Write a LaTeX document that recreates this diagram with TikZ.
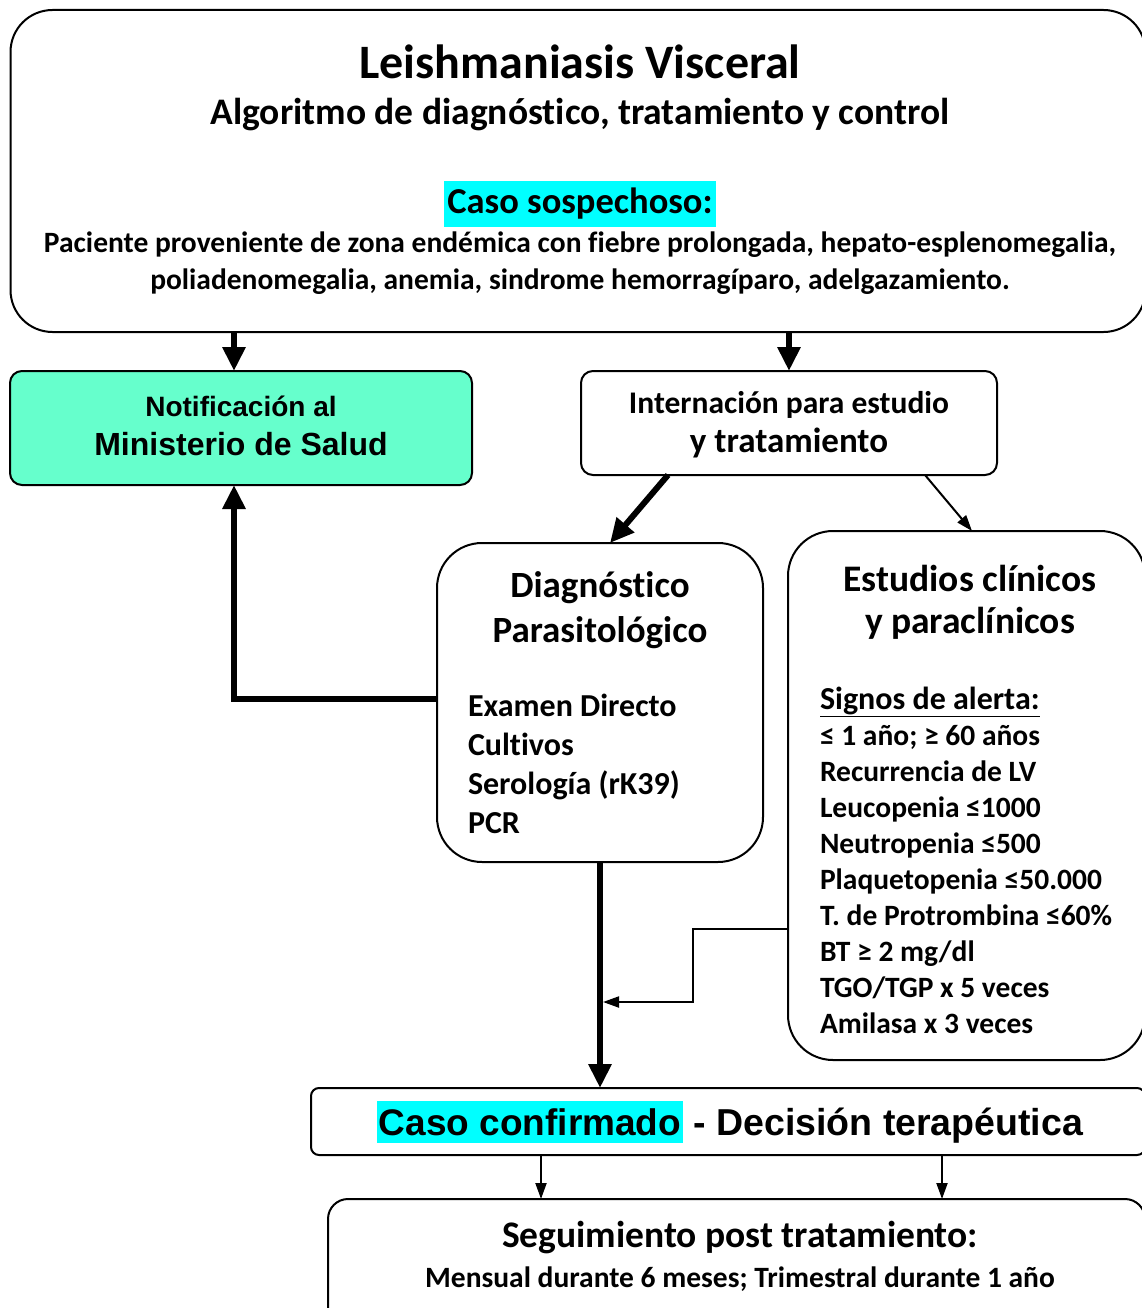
\documentclass[tikz,border=0pt]{standalone}
\usepackage{fontspec}
\setmainfont{Carlito}[Ligatures=NoCommon]
\newfontfamily\arialfont{Liberation Sans}
\usetikzlibrary{arrows.meta,positioning}
\definecolor{notifgreen}{HTML}{66FFCC}
\definecolor{marker}{HTML}{00FFFF}
\newcommand{\fs}[2]{\fontsize{#1}{#2}\selectfont}

\begin{document}
\begin{tikzpicture}[x=1pt,y=-1pt,
  box/.style={draw,line width=2pt,rounded corners=#1,inner sep=0pt,outer sep=0pt},
  box/.default=40pt,
  txt/.style={inner sep=0pt,outer sep=0pt},
  thickarrow/.style={line width=6pt,-{Triangle[width=22pt,length=24pt]}},
  thinarrow/.style={line width=2pt,-{Triangle[width=11pt,length=16pt]}}]
\clip (0,0) rectangle (1142,1308);

\node[box=42pt,minimum width=1135pt,minimum height=322pt] (top) at (578,171) {};
\node[txt,font=\bfseries\fs{48}{54}] (title) at (580,62) {Leishmaniasis Visceral};
\node[txt,font=\bfseries\fs{37.5}{42}] (subtitle) at (580,115) {Algoritmo de diagnóstico, tratamiento y control};
\node[txt,fill=marker,minimum width=272pt,minimum height=46pt,font=\bfseries\fs{36.5}{40}] (sospecha) at (580,204) {Caso sospechoso:};
\node[txt,align=center,font=\bfseries\fs{29.5}{37}] (paciente) at (580,263)
  {Paciente proveniente de zona endémica con fiebre prolongada, hepato-esplenomegalia,\\
   poliadenomegalia, anemia, sindrome hemorragíparo, adelgazamiento.};

\node[box=12pt,fill=notifgreen,minimum width=462pt,minimum height=114pt] (notif) at (241,428) {};
\node[txt,font=\arialfont\bfseries\fs{28}{32}] (notif1) at (241,406) {Notificación al};
\node[txt,font=\arialfont\bfseries\fs{32}{36}] (notif2) at (241,444) {Ministerio de Salud};

\node[box=12pt,minimum width=416pt,minimum height=104pt] (intern) at (789,423) {};
\node[txt,font=\bfseries\fs{31.5}{36}] (intern1) at (789,405) {Internación para estudio};
\node[txt,font=\bfseries\fs{35}{40}] (intern2) at (789,443) {y tratamiento};

\node[box=45pt,minimum width=326pt,minimum height=319pt] (diag) at (600,702.5) {};
\node[txt,font=\bfseries\fs{37}{42}] (diag1) at (600,588) {Diagnóstico};
\node[txt,font=\bfseries\fs{37}{42}] (diag2) at (600,633) {Parasitológico};
\node[txt,anchor=west,align=left,font=\bfseries\fs{32}{39}] (metodos) at (468,763.5)
  {Examen Directo\\ Cultivos\\ Serología (rK39)\\ PCR};

\node[box=45pt,minimum width=357pt,minimum height=529pt] (estud) at (966.5,795.5) {};
\node[txt,font=\bfseries\fs{37.5}{42}] (estud1) at (970,578) {Estudios clínicos};
\node[txt,font=\bfseries\fs{37.5}{42}] (estud2) at (970,623) {y paraclínicos};
\node[txt,anchor=west,align=left,font=\bfseries\fs{29.5}{36}] (alerta) at (820,860)
  {{\fs{32}{36}\underline{Signos de alerta:}}\\ ≤ 1 año; ≥ 60 años\\ Recurrencia de LV\\
   Leucopenia ≤1000\\ Neutropenia ≤500\\ Plaquetopenia ≤50.000\\ T. de Protrombina ≤60\%\\
   BT ≥ 2 mg/dl\\ TGO/TGP x 5 veces\\ Amilasa x 3 veces};

\node[box=8pt,minimum width=834pt,minimum height=67pt] (confirm) at (728,1121.5) {};
\node[txt,fill=marker,minimum width=306pt,minimum height=42pt,font=\arialfont\bfseries\fs{37}{40}] (confirmado) at (530,1122) {Caso confirmado};
\node[txt,anchor=base west,font=\arialfont\bfseries\fs{37.5}{40}] (decision) at (confirmado.base east) {\ - Decisión terapéutica};

\node[box=20pt,minimum width=817pt,minimum height=131pt] (seguim) at (736.5,1264.5) {};
\node[txt,font=\bfseries\fs{37.5}{42}] (seguim1) at (740,1238) {Seguimiento post tratamiento:};
\node[txt,font=\bfseries\fs{29.5}{32}] (seguim2) at (740,1279) {Mensual durante 6 meses; Trimestral durante 1 año};

\coordinate (join) at (603,1002);

\draw[thickarrow] ([xshift=-7pt]notif.north |- top.south) -- ([xshift=-7pt]notif.north);
\draw[thickarrow] (intern.north |- top.south) -- (intern.north);
\draw[thickarrow] ([xshift=-121pt]intern.south) -- ([xshift=10pt]diag.north);
\draw[thinarrow] ([xshift=136pt]intern.south) -- ([xshift=5.5pt]estud.north);
\draw[thickarrow] ([yshift=3.5pt]diag.west) -| ([xshift=-7pt]notif.south);
\draw[thickarrow] (diag.south) -- (diag.south |- confirm.north);
\draw[thinarrow] ([yshift=-133.5pt]estud.west) -- ++(-95,0) |- (join);
\draw[thinarrow] ([xshift=-187pt]confirm.south) -- ([xshift=-187pt]confirm.south |- seguim.north);
\draw[thinarrow] ([xshift=214pt]confirm.south) -- ([xshift=214pt]confirm.south |- seguim.north);
\end{tikzpicture}
\end{document}
